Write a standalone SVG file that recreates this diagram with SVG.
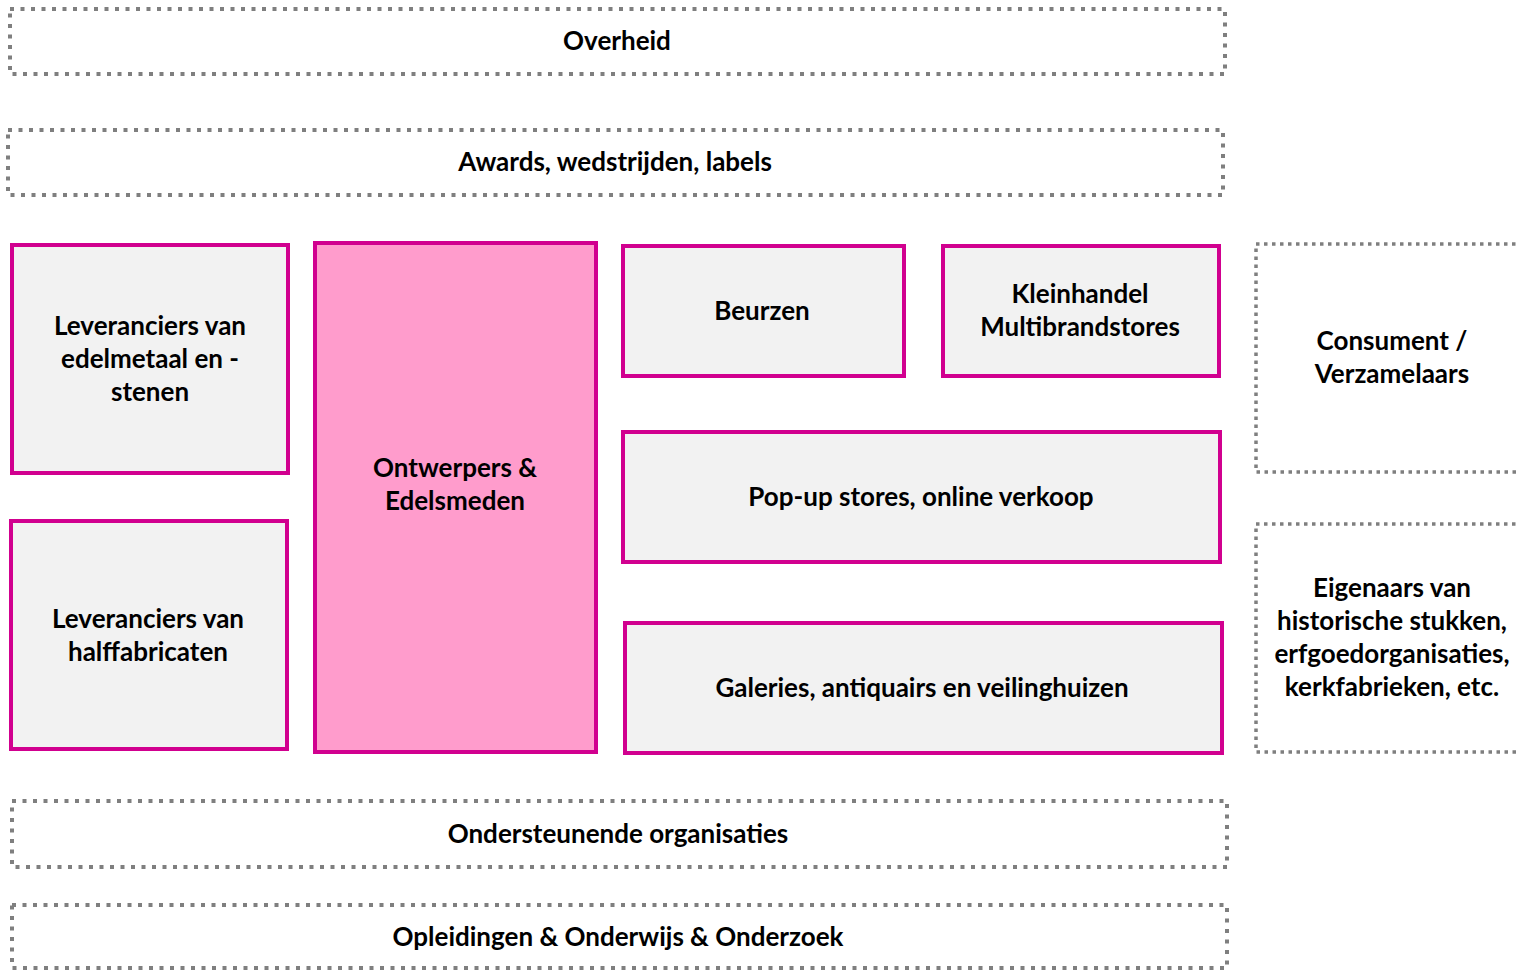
<svg xmlns="http://www.w3.org/2000/svg" width="1518" height="970" viewBox="0 0 1518 970">
<style>
.dash{fill:none;stroke:#7f7f7f;stroke-width:4;stroke-dasharray:4 6.5}
.dash2{fill:none;stroke:#7f7f7f;stroke-width:3.5;stroke-dasharray:3.5 4.5}
.box{fill:#f2f2f2;stroke:#d1008f;stroke-width:4}
.pink{fill:#ff9ccc;stroke:#d1008f;stroke-width:4}
text{font-family:Lato,"Open Sans","Liberation Sans",sans-serif;font-weight:700;font-size:26px;fill:#000;text-anchor:middle;dominant-baseline:central}
</style>
<rect width="1518" height="970" fill="#fff"/>
<g id="overheid"><rect class="dash" x="10" y="9" width="1215" height="65"/><text x="617" y="40">Overheid</text></g>
<g id="awards"><rect class="dash" x="8" y="130" width="1215" height="65"/><text x="615" y="161">Awards, wedstrijden, labels</text></g>
<g id="lev-edelmetaal"><rect class="box" x="12" y="245" width="276" height="228"/><text x="150" y="325">Leveranciers van</text><text x="150" y="358">edelmetaal en -</text><text x="150" y="391">stenen</text></g>
<g id="ontwerpers"><rect class="pink" x="315" y="243" width="281" height="509"/><text x="455" y="467">Ontwerpers &amp;</text><text x="455" y="500">Edelsmeden</text></g>
<g id="beurzen"><rect class="box" x="623" y="246" width="281" height="130"/><text x="762" y="310">Beurzen</text></g>
<g id="kleinhandel"><rect class="box" x="943" y="246" width="276" height="130"/><text x="1080" y="293">Kleinhandel</text><text x="1080" y="326">Multibrandstores</text></g>
<g id="consument"><rect class="dash2" x="1256" y="244" width="280" height="228"/><text x="1392" y="340">Consument /</text><text x="1392" y="373">Verzamelaars</text></g>
<g id="popup"><rect class="box" x="623" y="432" width="597" height="130"/><text x="921" y="496">Pop-up stores, online verkoop</text></g>
<g id="lev-halffabricaten"><rect class="box" x="11" y="521" width="276" height="228"/><text x="148" y="618">Leveranciers van</text><text x="148" y="651">halffabricaten</text></g>
<g id="galeries"><rect class="box" x="625" y="623" width="597" height="130"/><text x="922" y="687">Galeries, antiquairs en veilinghuizen</text></g>
<g id="eigenaars"><rect class="dash2" x="1256" y="524" width="280" height="228"/><text x="1392" y="587">Eigenaars van</text><text x="1392" y="620">historische stukken,</text><text x="1392" y="653">erfgoedorganisaties,</text><text x="1392" y="686">kerkfabrieken, etc.</text></g>
<g id="ondersteunende"><rect class="dash" x="12" y="801" width="1215" height="66"/><text x="618" y="833">Ondersteunende organisaties</text></g>
<g id="opleidingen"><rect class="dash" x="12" y="905" width="1215" height="63"/><text x="618" y="936">Opleidingen &amp; Onderwijs &amp; Onderzoek</text></g>
<g id="connectors"></g>
</svg>
